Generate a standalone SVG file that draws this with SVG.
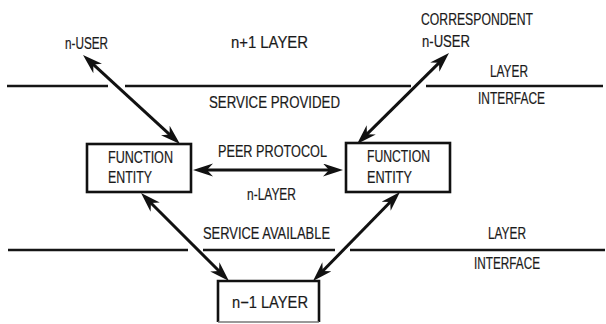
<svg xmlns="http://www.w3.org/2000/svg" width="606" height="324" viewBox="0 0 606 324">
  <style>
    text { font-family: "Liberation Sans Narrow", "Liberation Sans", Arial, sans-serif; font-size: 16.5px; fill: #1a1a1a; stroke: #1a1a1a; stroke-width: 0.2; }
    .box { fill: #ffffff; stroke: #111111; stroke-width: 2.6; }
    .layer { stroke: #151515; stroke-width: 2.4; fill: none; }
    .conn { stroke: #111111; stroke-width: 3; fill: none; marker-start: url(#head); marker-end: url(#head); }
  </style>
  <defs>
    <marker id="head" markerUnits="userSpaceOnUse" markerWidth="22" markerHeight="14" refX="12" refY="6.5" orient="auto-start-reverse">
      <path d="M0,0 L20,6.5 L0,13 L6,6.5 Z" fill="#111111"/>
    </marker>
  </defs>
  <rect width="606" height="324" fill="#ffffff"/>

  <!-- layer boundaries -->
  <g id="layer-lines">
    <path class="layer" d="M7,86 H108 M125,86 H411 M426,86 H603"/>
    <path class="layer" d="M8,250 H188 M203,250 H335 M350,250 H605"/>
  </g>

  <!-- free labels -->
  <g id="labels">
    <text x="65" y="49" textLength="43" lengthAdjust="spacingAndGlyphs">n-USER</text>
    <text x="231" y="48" textLength="77" lengthAdjust="spacingAndGlyphs">n+1 LAYER</text>
    <text x="421" y="25" textLength="112" lengthAdjust="spacingAndGlyphs">CORRESPONDENT</text>
    <text x="422" y="47" textLength="48" lengthAdjust="spacingAndGlyphs">n-USER</text>
    <text x="490" y="77" textLength="38" lengthAdjust="spacingAndGlyphs">LAYER</text>
    <text x="478" y="104" textLength="67" lengthAdjust="spacingAndGlyphs">INTERFACE</text>
    <text x="209" y="108" textLength="131" lengthAdjust="spacingAndGlyphs">SERVICE PROVIDED</text>
    <text x="218" y="157" textLength="109" lengthAdjust="spacingAndGlyphs">PEER PROTOCOL</text>
    <text x="247" y="200" textLength="49" lengthAdjust="spacingAndGlyphs">n-LAYER</text>
    <text x="203" y="239" textLength="127" lengthAdjust="spacingAndGlyphs">SERVICE AVAILABLE</text>
    <text x="488" y="239" textLength="38" lengthAdjust="spacingAndGlyphs">LAYER</text>
    <text x="474" y="269" textLength="66" lengthAdjust="spacingAndGlyphs">INTERFACE</text>
  </g>

  <!-- connectors -->
  <g id="connectors">
    <line class="conn" x1="88.9" y1="60.4" x2="174.1" y2="138.6"/>
    <line class="conn" x1="443.3" y1="58.6" x2="362.7" y2="138.4"/>
    <line class="conn" x1="146.7" y1="198.7" x2="223.3" y2="275.3"/>
    <line class="conn" x1="394.4" y1="197.7" x2="318.6" y2="275.3"/>
    <line class="conn" x1="201" y1="170" x2="335" y2="170"/>
  </g>

  <!-- nodes -->
  <g id="entity-left">
    <rect class="box" x="87" y="144" width="104" height="48"/>
    <text x="108" y="163" textLength="65" lengthAdjust="spacingAndGlyphs">FUNCTION</text>
    <text x="108" y="183" textLength="44" lengthAdjust="spacingAndGlyphs">ENTITY</text>
  </g>
  <g id="entity-right">
    <rect class="box" x="346" y="143" width="104" height="49"/>
    <text x="367" y="162" textLength="63" lengthAdjust="spacingAndGlyphs">FUNCTION</text>
    <text x="367" y="183" textLength="45" lengthAdjust="spacingAndGlyphs">ENTITY</text>
  </g>
  <g id="lower-layer">
    <path class="box" d="M218,322 V281 H319 V322"/>
    <path d="M218,322 H319" stroke="#777777" stroke-width="1.5" fill="none"/>
    <text x="232" y="308" textLength="76" lengthAdjust="spacingAndGlyphs">n−1 LAYER</text>
  </g>
</svg>
